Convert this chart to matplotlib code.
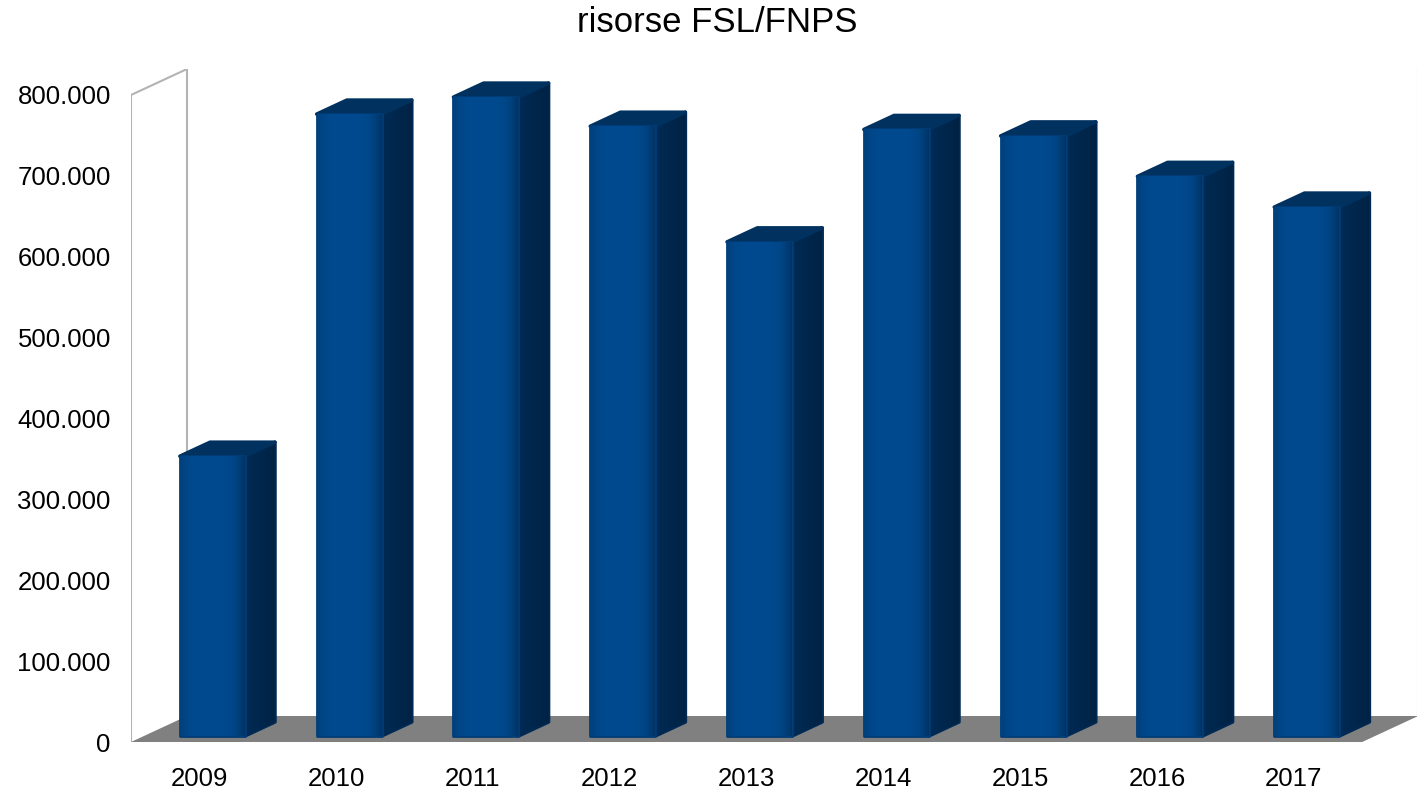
import numpy as np
import matplotlib.pyplot as plt
from matplotlib.patches import Polygon
from matplotlib.ticker import FuncFormatter

plt.rcParams['font.family'] = ['Liberation Sans', 'DejaVu Sans']

years = ['2009', '2010', '2011', '2012', '2013', '2014', '2015', '2016', '2017']
resources = [346000, 769000, 790000, 754000, 611000, 750000, 742000, 692000, 654000]
y_ticks = [0, 100000, 200000, 300000, 400000, 500000, 600000, 700000, 800000]

# pseudo-3d depth vector (data units) and bar placement inside the depth
DX = 0.4094
DY = 32148
D0, D1 = 0.23, 0.77
HALF_W = 0.2375

FRONT = '#004a8c'
SIDE = '#002a54'
TOP = '#00315f'

fig = plt.figure(figsize=(14.24, 7.95), dpi=100)
ax = fig.add_axes([131 / 1424, 53 / 795, 1286 / 1424, 673 / 795])
n = len(years)
xmin, xmax = -0.5, n - 0.5

# floor
floor = Polygon([(xmin, 0), (xmax, 0), (xmax + DX, DY), (xmin + DX, DY)],
                closed=True, facecolor='#808080', edgecolor='none', zorder=1)
ax.add_patch(floor)

# walls
wall_kw = dict(color='#b3b3b3', lw=1.5, zorder=0.5, solid_capstyle='butt')
top = y_ticks[-1]
ax.plot([xmin, xmin, xmin + DX, xmin + DX], [0, top, top + DY, DY], **wall_kw)
ax.plot([xmax + DX, xmax + DX], [DY, top + DY], **wall_kw)

# horizontal shading for the front face
g = np.linspace(0, 1, 64)
shade = 1 - 0.3 * (np.abs(g - 0.45) / 0.55) ** 4
base = np.array([0x00, 0x4a, 0x8f]) / 255
front_img = (shade[None, :, None] * base[None, None, :])
side_base = np.array([0x00, 0x2b, 0x55]) / 255
side_shade = 1 - 0.2 * g
side_img = side_shade[None, :, None] * side_base[None, None, :]

for i, v in enumerate(resources):
    x0 = i - HALF_W + D0 * DX
    x1 = i + HALF_W + D0 * DX
    yb = D0 * DY
    yt = v + D0 * DY
    ddx = (D1 - D0) * DX
    ddy = (D1 - D0) * DY
    side = Polygon([(x1, yb), (x1 + ddx, yb + ddy), (x1 + ddx, yt + ddy), (x1, yt)],
                   closed=True, facecolor=SIDE, edgecolor=SIDE, lw=2.5,
                   joinstyle='round', zorder=2)
    ax.add_patch(side)
    im = ax.imshow(side_img, extent=[x1, x1 + ddx, yb, yt + ddy], aspect='auto',
                   zorder=2.1, interpolation='bilinear')
    im.set_clip_path(side)
    topf = Polygon([(x0, yt), (x1, yt), (x1 + ddx, yt + ddy), (x0 + ddx, yt + ddy)],
                   closed=True, facecolor=TOP, edgecolor=TOP, lw=2.5,
                   joinstyle='round', zorder=2.2)
    ax.add_patch(topf)
    front = Polygon([(x0, yb), (x1, yb), (x1, yt), (x0, yt)], closed=True,
                    facecolor=FRONT, edgecolor='#003d78', lw=2,
                    joinstyle='round', zorder=3)
    ax.add_patch(front)
    im2 = ax.imshow(front_img, extent=[x0, x1, yb, yt], aspect='auto',
                    zorder=3.1, interpolation='bilinear')
    im2.set_clip_path(front)

ax.set_xlim(xmin, xmin + 1286 / 136.8)
ax.set_ylim(0, 673 / 0.80875 * 1000)

ax.set_xticks(range(n))
ax.set_xticklabels(years)
ax.set_yticks(y_ticks)
ax.yaxis.set_major_formatter(
    FuncFormatter(lambda val, pos: f'{int(val):,}'.replace(',', '.')))
ax.tick_params(axis='both', length=0, labelsize=18.5, colors='black')
ax.tick_params(axis='y', pad=14.5)
ax.tick_params(axis='x', pad=18)
for s in ax.spines.values():
    s.set_visible(False)

fig.text(717 / 1424, 1 - 22 / 795, 'risorse FSL/FNPS', ha='center', va='center',
         fontsize=25)

fig.savefig('out.png', dpi=100)
